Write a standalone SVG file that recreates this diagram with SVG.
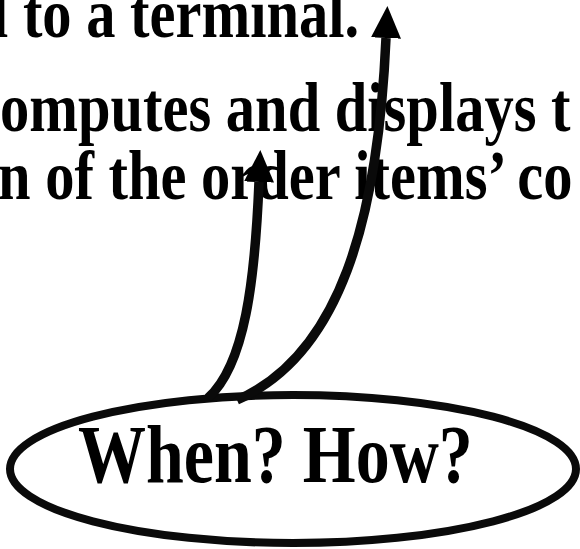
<svg xmlns="http://www.w3.org/2000/svg" width="580" height="549" viewBox="0 0 580 549">
  <style>
    .txt { font-family: "Liberation Serif", "Times New Roman", serif; font-weight: bold; fill: #000; }
    .line { font-size: 58.5px; }
    .big { font-size: 68px; }
    .conn { fill: none; stroke: #0a0a0a; stroke-width: 9.5; }
    .oval { fill: none; stroke: #0a0a0a; stroke-width: 8; }
  </style>
  <defs>
    <marker id="head" markerUnits="userSpaceOnUse" markerWidth="34" markerHeight="32" refX="0" refY="15" orient="auto">
      <path d="M0,0 L32,15 L0,30 Z" fill="#000"/>
    </marker>
  </defs>

  <!-- statement text, slightly tall glyphs -->
  <g id="statement" transform="scale(1,1.2)">
    <text class="txt line" x="-8" y="30.8">l to a terminal.</text>
    <text class="txt line" x="0" y="109.5">omputes and displays t</text>
    <text class="txt line" x="-2" y="165.8">n of the order items’ co</text>
  </g>

  <!-- question bubble -->
  <g id="question">
    <ellipse class="oval" cx="293" cy="469" rx="283" ry="74"/>
    <text class="txt big" x="78" y="401.7" transform="scale(1,1.2)">When? How?</text>
  </g>

  <!-- arrows from the bubble up to the statement -->
  <g id="connectors">
    <path class="conn" d="M208,398 C245,365 255,280 259,182" marker-end="url(#head)"/>
    <path class="conn" d="M237,400 C340,355 378,220 386,38" marker-end="url(#head)"/>
  </g>
</svg>
